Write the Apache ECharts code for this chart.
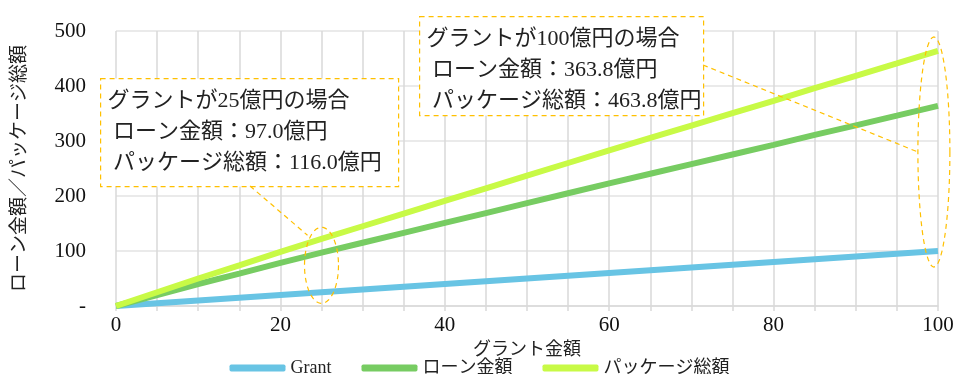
<!DOCTYPE html>
<html><head><meta charset="utf-8">
<script src="https://cdn.jsdelivr.net/npm/echarts@6/dist/echarts.min.js"></script>
<style>html,body{margin:0;padding:0;background:#fff}#c{width:959px;height:374px}</style>
</head><body><div id="c"></div>
<script>
const grantX = [0,5,10,15,20,25,30,35,40,45,50,55,60,65,70,75,80,85,90,95,100];
const grantVals = [0,5,10,15,20,25,30,35,40,45,50,55,60,65,70,75,80,85,90,95,100];
const loanVals = [0,20,40,59,78.5,97,115,133,151,169,187,205,223,240.5,258,275.5,293,311,328.5,346,363.8];
const packageVals = [0,25,50,74,98.5,122,145,168,191,214,237,260,283,305.5,328,350.5,373,396,418.5,441,463.8];
const seriesNames = ['Grant','ローン金額','パッケージ総額'];
const yTickLabels = {0:'-',100:'100',200:'200',300:'300',400:'400',500:'500'};
const note1 = ['グラントが25億円の場合',' ローン金額：97.0億円',' パッケージ総額：116.0億円'];
const note2 = ['グラントが100億円の場合',' ローン金額：363.8億円',' パッケージ総額：463.8億円'];

const FONT = '"Liberation Serif", "Noto Sans CJK JP", serif';
const chart = echarts.init(document.getElementById('c'));
const pair = (xs, ys) => xs.map((x,i)=>[x, ys[i]]);
const colors = ['#68C4E4','#77CC62','#C8FA46'];
const opt = {
  animation:false,
  textStyle:{fontFamily:FONT},
  grid:{left:116,right:21,top:31,bottom:68},
  xAxis:{type:'value',min:0,max:100,interval:5,
    name:'グラント金額',nameLocation:'middle',nameGap:30,
    nameTextStyle:{fontSize:18,color:'#222',fontFamily:FONT},
    axisLine:{lineStyle:{color:'#d9d9d9',width:1.5}},
    axisTick:{show:true,length:5,lineStyle:{color:'#d9d9d9',width:1.5}},
    axisLabel:{fontSize:21,color:'#111',margin:9,fontFamily:FONT,
      formatter:v=> v%20===0 ? String(v) : ''},
    splitLine:{show:true,lineStyle:{color:'#d9d9d9',width:1.5}}},
  yAxis:{type:'value',min:0,max:500,interval:100,
    name:'ローン金額／パッケージ総額',nameLocation:'middle',nameGap:86,nameRotate:90,
    nameTextStyle:{fontSize:19,color:'#222',fontFamily:FONT},
    axisLine:{show:false},axisTick:{show:false},
    axisLabel:{fontSize:21,color:'#111',margin:30,fontFamily:FONT,formatter:v=>yTickLabels[v]},
    splitLine:{show:true,lineStyle:{color:'#e3e3e3',width:1.5}}},
  legend:{bottom:-8,left:'center',itemWidth:56,itemHeight:7,itemGap:30,icon:'roundRect',
    textStyle:{fontSize:18,color:'#222',fontFamily:FONT},data:seriesNames},
  series:[
    {name:seriesNames[0],type:'line',data:pair(grantX,grantVals),showSymbol:false,lineStyle:{width:6,color:colors[0]},itemStyle:{color:colors[0]}},
    {name:seriesNames[1],type:'line',data:pair(grantX,loanVals),showSymbol:false,lineStyle:{width:6,color:colors[1]},itemStyle:{color:colors[1]}},
    {name:seriesNames[2],type:'line',data:pair(grantX,packageVals),showSymbol:false,lineStyle:{width:6,color:colors[2]},itemStyle:{color:colors[2]}}
  ]
};
chart.setOption(opt);

function ellipsePts(cx,cy,rx,ry){const p=[];for(let i=0;i<72;i++){const a=i/72*Math.PI*2;p.push([cx+rx*Math.cos(a),cy+ry*Math.sin(a)]);}return p;}
const c1 = chart.convertToPixel({gridIndex:0},[25,74]);
const c2 = chart.convertToPixel({gridIndex:0},[99.5,280]);
const dash = {stroke:'#FFC000',lineWidth:1.2,lineDash:[5,4],fill:null};
function box(x,y,w,h,lines){
  return {type:'group',left:x,top:y,children:[
    {type:'rect',shape:{x:0,y:0,width:w,height:h},style:{fill:'#fff',stroke:'#FFC000',lineWidth:1.2,lineDash:[5,4]}},
    {type:'text',x:7,y:7,style:{text:lines.join('\n'),font:'22px '+FONT,lineHeight:31,fill:'#222'}}
  ]};
}
chart.setOption({graphic:[
  {type:'polygon',shape:{points:ellipsePts(c1[0],c1[1],17,38)},style:dash,z:10},
  {type:'polygon',shape:{points:ellipsePts(c2[0],c2[1],16,115)},style:dash,z:10},
  {type:'line',shape:{x1:250,y1:186,x2:c1[0]-14,y2:c1[1]-30},style:dash,z:10},
  {type:'line',shape:{x1:703,y1:65,x2:c2[0]-16,y2:c2[1]},style:dash,z:10},
  Object.assign(box(100,78,298,108,note1),{z:11}),
  Object.assign(box(419,16,284,99,note2),{z:11})
]});
</script></body></html>
